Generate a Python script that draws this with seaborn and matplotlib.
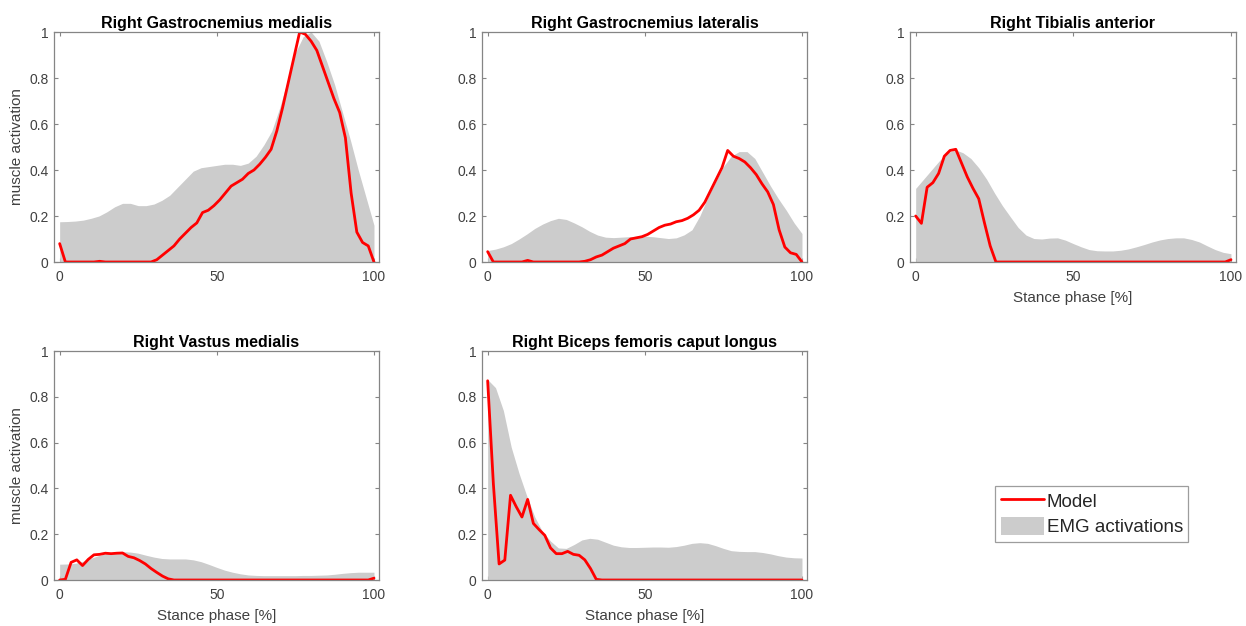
import numpy as np
import pandas as pd
import matplotlib.pyplot as plt
import seaborn as sns
from matplotlib.lines import Line2D
from matplotlib.patches import Patch

# stance phase grids [%]
model_x = np.linspace(0, 100, 56)
emg_x = np.arange(0, 100.1, 2.5)

titles = ["Right Gastrocnemius medialis", "Right Gastrocnemius lateralis",
          "Right Tibialis anterior", "Right Vastus medialis",
          "Right Biceps femoris caput longus"]

# model activations (56 samples over stance)
gm_model = [0.08, 0.0, 0.0, 0.0, 0.0, 0.0, 0.0, 0.003, 0.0, 0.0, 0.0, 0.0, 0.0, 0.0, 0.0, 0.0,
            0.0, 0.01, 0.03, 0.05, 0.07, 0.1, 0.125, 0.15, 0.17, 0.215, 0.225, 0.245, 0.27, 0.3,
            0.33, 0.345, 0.36, 0.385, 0.4, 0.425, 0.455, 0.49, 0.57, 0.67, 0.78, 0.89, 1.0, 0.99,
            0.96, 0.92, 0.85, 0.78, 0.71, 0.65, 0.54, 0.3, 0.13, 0.085, 0.07, 0.0]
gl_model = [0.045, 0.0, 0.0, 0.0, 0.0, 0.0, 0.0, 0.007, 0.0, 0.0, 0.0, 0.0, 0.0, 0.0, 0.0, 0.0,
            0.0, 0.003, 0.01, 0.022, 0.03, 0.045, 0.06, 0.07, 0.08, 0.1, 0.105, 0.11, 0.12, 0.135,
            0.15, 0.16, 0.165, 0.175, 0.18, 0.19, 0.205, 0.225, 0.26, 0.31, 0.36, 0.41, 0.485, 0.46,
            0.45, 0.435, 0.41, 0.38, 0.34, 0.305, 0.25, 0.14, 0.065, 0.04, 0.033, 0.0]
ta_model = [0.2, 0.168, 0.325, 0.345, 0.385, 0.46, 0.485, 0.49, 0.43, 0.37, 0.32, 0.275, 0.17, 0.07,
            0.0, 0.0, 0.0, 0.0, 0.0, 0.0, 0.0, 0.0, 0.0, 0.0, 0.0, 0.0, 0.0, 0.0, 0.0, 0.0,
            0.0, 0.0, 0.0, 0.0, 0.0, 0.0, 0.0, 0.0, 0.0, 0.0, 0.0, 0.0, 0.0, 0.0, 0.0, 0.0,
            0.0, 0.0, 0.0, 0.0, 0.0, 0.0, 0.0, 0.0, 0.0, 0.01]
vm_model = [0.0, 0.003, 0.077, 0.088, 0.063, 0.09, 0.11, 0.112, 0.117, 0.115, 0.117, 0.118, 0.103,
            0.097, 0.085, 0.07, 0.05, 0.033, 0.017, 0.005, 0.0, 0.0, 0.0, 0.0, 0.0, 0.0, 0.0, 0.0,
            0.0, 0.0, 0.0, 0.0, 0.0, 0.0, 0.0, 0.0, 0.0, 0.0, 0.0, 0.0, 0.0, 0.0, 0.0, 0.0, 0.0,
            0.0, 0.0, 0.0, 0.0, 0.0, 0.0, 0.0, 0.0, 0.0, 0.0, 0.008]
bf_model = [0.87, 0.42, 0.07, 0.087, 0.37, 0.32, 0.275, 0.352, 0.247, 0.22, 0.195, 0.14, 0.115,
            0.115, 0.125, 0.112, 0.108, 0.088, 0.05, 0.003, 0.0, 0.0, 0.0, 0.0, 0.0, 0.0, 0.0, 0.0,
            0.0, 0.0, 0.0, 0.0, 0.0, 0.0, 0.0, 0.0, 0.0, 0.0, 0.0, 0.0, 0.0, 0.0, 0.0, 0.0, 0.0,
            0.0, 0.0, 0.0, 0.0, 0.0, 0.0, 0.0, 0.0, 0.0, 0.0, 0.0]

# EMG envelopes (every 2.5 %)
gm_emg = [0.175, 0.176, 0.178, 0.182, 0.19, 0.2, 0.218, 0.24, 0.255, 0.255, 0.245, 0.245, 0.252,
          0.268, 0.29, 0.325, 0.36, 0.395, 0.41, 0.415, 0.42, 0.425, 0.425, 0.42, 0.43, 0.46,
          0.51, 0.57, 0.67, 0.79, 0.91, 0.98, 1.0, 0.96, 0.87, 0.77, 0.65, 0.53, 0.4, 0.28, 0.16]
gl_emg = [0.05, 0.056, 0.066, 0.08, 0.1, 0.122, 0.146, 0.165, 0.18, 0.19, 0.185, 0.17, 0.153,
          0.133, 0.117, 0.108, 0.106, 0.108, 0.11, 0.112, 0.112, 0.11, 0.106, 0.102, 0.105, 0.118,
          0.14, 0.2, 0.28, 0.35, 0.415, 0.46, 0.48, 0.48, 0.45, 0.39, 0.33, 0.275, 0.225, 0.17,
          0.124]
ta_emg = [0.32, 0.36, 0.4, 0.44, 0.474, 0.488, 0.475, 0.45, 0.41, 0.36, 0.3, 0.245, 0.197, 0.15,
          0.117, 0.102, 0.1, 0.104, 0.105, 0.095, 0.08, 0.066, 0.054, 0.049, 0.048, 0.048, 0.051,
          0.057, 0.066, 0.076, 0.087, 0.096, 0.102, 0.105, 0.105, 0.098, 0.087, 0.07, 0.054,
          0.042, 0.036]
vm_emg = [0.069, 0.07, 0.073, 0.082, 0.095, 0.107, 0.117, 0.122, 0.124, 0.122, 0.117, 0.108, 0.1,
          0.094, 0.092, 0.092, 0.092, 0.088, 0.08, 0.068, 0.055, 0.043, 0.034, 0.027, 0.022, 0.02,
          0.019, 0.019, 0.019, 0.019, 0.019, 0.02, 0.02, 0.021, 0.022, 0.025, 0.029, 0.032, 0.034,
          0.034, 0.034]
bf_emg = [0.875, 0.84, 0.74, 0.58, 0.465, 0.365, 0.275, 0.21, 0.17, 0.14, 0.138, 0.155, 0.175,
          0.182, 0.178, 0.165, 0.152, 0.145, 0.142, 0.142, 0.143, 0.144, 0.144, 0.143, 0.146,
          0.152, 0.16, 0.163, 0.16, 0.15, 0.138, 0.128, 0.125, 0.124, 0.124, 0.12, 0.114, 0.106,
          0.1, 0.097, 0.096]

model_data = [gm_model, gl_model, ta_model, vm_model, bf_model]
emg_data = [gm_emg, gl_emg, ta_emg, vm_emg, bf_emg]

sns.set_theme(style="white")
plt.rcParams['font.family'] = ['Liberation Sans', 'DejaVu Sans']

fig = plt.figure(figsize=(12.46, 6.26), dpi=100)
W, H = 1246, 626
# axes boxes in pixels: left, right, top, bottom
boxes = [(54, 379, 32, 262), (482, 807, 32, 262), (910, 1236, 32, 262),
         (54, 379, 351, 580), (482, 807, 351, 580)]

axis_grey = '#858585'
text_grey = '#404040'

for i, (title, model, emg) in enumerate(zip(titles, model_data, emg_data)):
    l, r, t, b = boxes[i]
    ax = fig.add_axes([l / W, 1 - b / H, (r - l) / W, (b - t) / H])
    ax.fill_between(emg_x, 0, emg, color='#cccccc', lw=0)
    df = pd.DataFrame({'x': model_x, 'y': model})
    sns.lineplot(data=df, x='x', y='y', ax=ax, color='red', lw=2)
    ax.set_xlim(-1.8, 101.6)
    ax.set_ylim(0, 1)
    ax.set_xticks([0, 50, 100])
    ax.set_yticks([0, 0.2, 0.4, 0.6, 0.8, 1])
    ax.set_yticklabels(['0', '0.2', '0.4', '0.6', '0.8', '1'])
    ax.tick_params(direction='in', length=3, width=0.8, colors=axis_grey,
                   labelcolor=text_grey, labelsize=10, top=True, right=True,
                   left=True, bottom=True, pad=4)
    ax.tick_params(axis='x', pad=6)
    for sp in ax.spines.values():
        sp.set_color(axis_grey)
        sp.set_linewidth(0.9)
        sp.set_visible(True)
    ax.set_title(title, fontsize=11.5, fontweight='bold', color='black', pad=3)
    if i in (0, 3):
        ax.set_ylabel('muscle activation', fontsize=11, color=text_grey, labelpad=4)
    else:
        ax.set_ylabel('')
    if i in (2, 3, 4):
        ax.set_xlabel('Stance phase [%]', fontsize=11, color=text_grey, labelpad=5)
    else:
        ax.set_xlabel('')

handles = [Line2D([], [], color='red', lw=2), Patch(facecolor='#cccccc', edgecolor='none')]
leg = fig.legend(handles, ['Model', 'EMG activations'], loc='upper left',
                 bbox_to_anchor=(995 / W, 1 - 486 / H), fontsize=13.5, frameon=True,
                 fancybox=False, handlelength=2.3, handleheight=1.05, labelspacing=0.35,
                 handletextpad=0.15, borderpad=0.3, borderaxespad=0)
leg.get_frame().set_edgecolor(axis_grey)
leg.get_frame().set_linewidth(0.9)

fig.savefig('out.png', dpi=100)
